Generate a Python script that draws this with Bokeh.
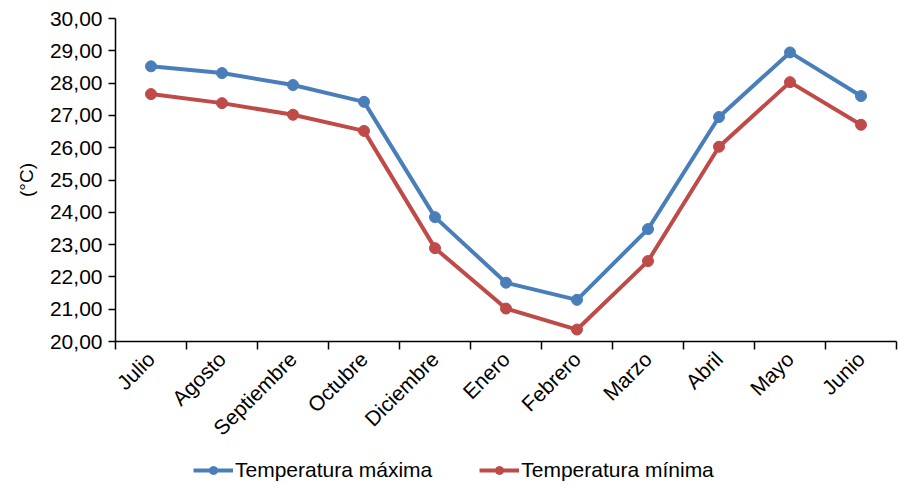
import math
from bokeh.plotting import figure
from bokeh.layouts import column
from bokeh.models import (ColumnDataSource, FixedTicker, Range1d, Legend, LegendItem)
from bokeh.embed import file_html
from bokeh.resources import INLINE

months = ["Julio", "Agosto", "Septiembre", "Octubre", "Diciembre", "Enero",
          "Febrero", "Marzo", "Abril", "Mayo", "Junio"]
t_max = [28.52, 28.31, 27.94, 27.42, 23.85, 21.82, 21.29, 23.48, 26.95, 28.95, 27.60]
t_min = [27.66, 27.38, 27.02, 26.52, 22.89, 21.02, 20.37, 22.49, 26.03, 28.03, 26.71]
y_ticks = list(range(20, 31))
series_names = ["Temperatura máxima", "Temperatura mínima"]

BLUE = "#4A7EBB"
RED = "#BE4B48"
FONT = "Liberation Sans"

xpos = [i + 0.5 for i in range(len(months))]
src = ColumnDataSource(dict(x=xpos, tmax=t_max, tmin=t_min))

p = figure(width=898, height=450, output_backend="svg", toolbar_location=None,
           x_range=Range1d(0, len(months)), y_range=Range1d(20, 30),
           min_border_left=115, min_border_right=2, min_border_top=18,
           min_border_bottom=107)
p.outline_line_color = None
p.grid.visible = False

p.line("x", "tmax", source=src, line_color=BLUE, line_width=4)
p.scatter("x", "tmax", source=src, size=11, fill_color=BLUE, line_color=BLUE)
p.line("x", "tmin", source=src, line_color=RED, line_width=4)
p.scatter("x", "tmin", source=src, size=11, fill_color=RED, line_color=RED)

# x axis
xa = p.xaxis[0]
xa.ticker = FixedTicker(ticks=xpos, minor_ticks=list(range(len(months) + 1)))
xa.major_label_overrides = {x: m for x, m in zip(xpos, months)}
xa.major_tick_out = 0
xa.major_tick_in = 0
xa.minor_tick_out = 8
xa.minor_tick_in = 0
xa.minor_tick_line_color = "black"
xa.minor_tick_line_width = 1.5
xa.axis_line_color = "black"
xa.axis_line_width = 1.5
xa.major_label_orientation = math.pi / 4
xa.major_label_text_font = FONT
xa.major_label_text_font_size = "21px"
xa.major_label_text_color = "black"
xa.major_label_standoff = 6

# y axis
ya = p.yaxis[0]
ya.ticker = FixedTicker(ticks=y_ticks, minor_ticks=[])
ya.major_label_overrides = {v: f"{v},00" for v in y_ticks}
ya.major_tick_out = 7
ya.major_tick_in = 0
ya.minor_tick_out = 0
ya.minor_tick_in = 0
ya.major_tick_line_width = 1.5
ya.axis_line_width = 1.5
ya.axis_line_color = "black"
ya.major_label_text_font = FONT
ya.major_label_text_font_size = "21px"
ya.major_label_text_color = "black"
ya.major_label_standoff = 6
ya.axis_label = "(°C)"
ya.axis_label_text_font = FONT
ya.axis_label_text_font_size = "19px"
ya.axis_label_text_font_style = "normal"
ya.axis_label_text_color = "black"
ya.axis_label_standoff = 10

# legend in its own small figure below
lg = figure(width=898, height=36, output_backend="svg", toolbar_location=None,
            x_range=Range1d(0, 1), y_range=Range1d(0, 1),
            x_axis_location=None, y_axis_location=None,
            min_border_left=0, min_border_right=0, min_border_top=0,
            min_border_bottom=0)
lg.grid.visible = False
lg.outline_line_color = None
off = ColumnDataSource(dict(x=[-5, -4], y=[-5, -5]))
r1l = lg.line("x", "y", source=off, line_color=BLUE, line_width=4)
r1c = lg.scatter("x", "y", source=off, size=11, fill_color=BLUE, line_color=BLUE)
r2l = lg.line("x", "y", source=off, line_color=RED, line_width=4)
r2c = lg.scatter("x", "y", source=off, size=11, fill_color=RED, line_color=RED)

legend = Legend(items=[LegendItem(label=series_names[0], renderers=[r1l, r1c]),
                       LegendItem(label=series_names[1], renderers=[r2l, r2c])],
                orientation="horizontal", location=(78, 4),
                label_text_font=FONT, label_text_font_size="21px",
                label_text_color="black", glyph_width=40, label_standoff=2,
                spacing=47, border_line_color=None, background_fill_alpha=0,
                padding=2, margin=0)
lg.add_layout(legend, "center")

open("out.html", "w").write(file_html(column(p, lg, spacing=0), INLINE))
